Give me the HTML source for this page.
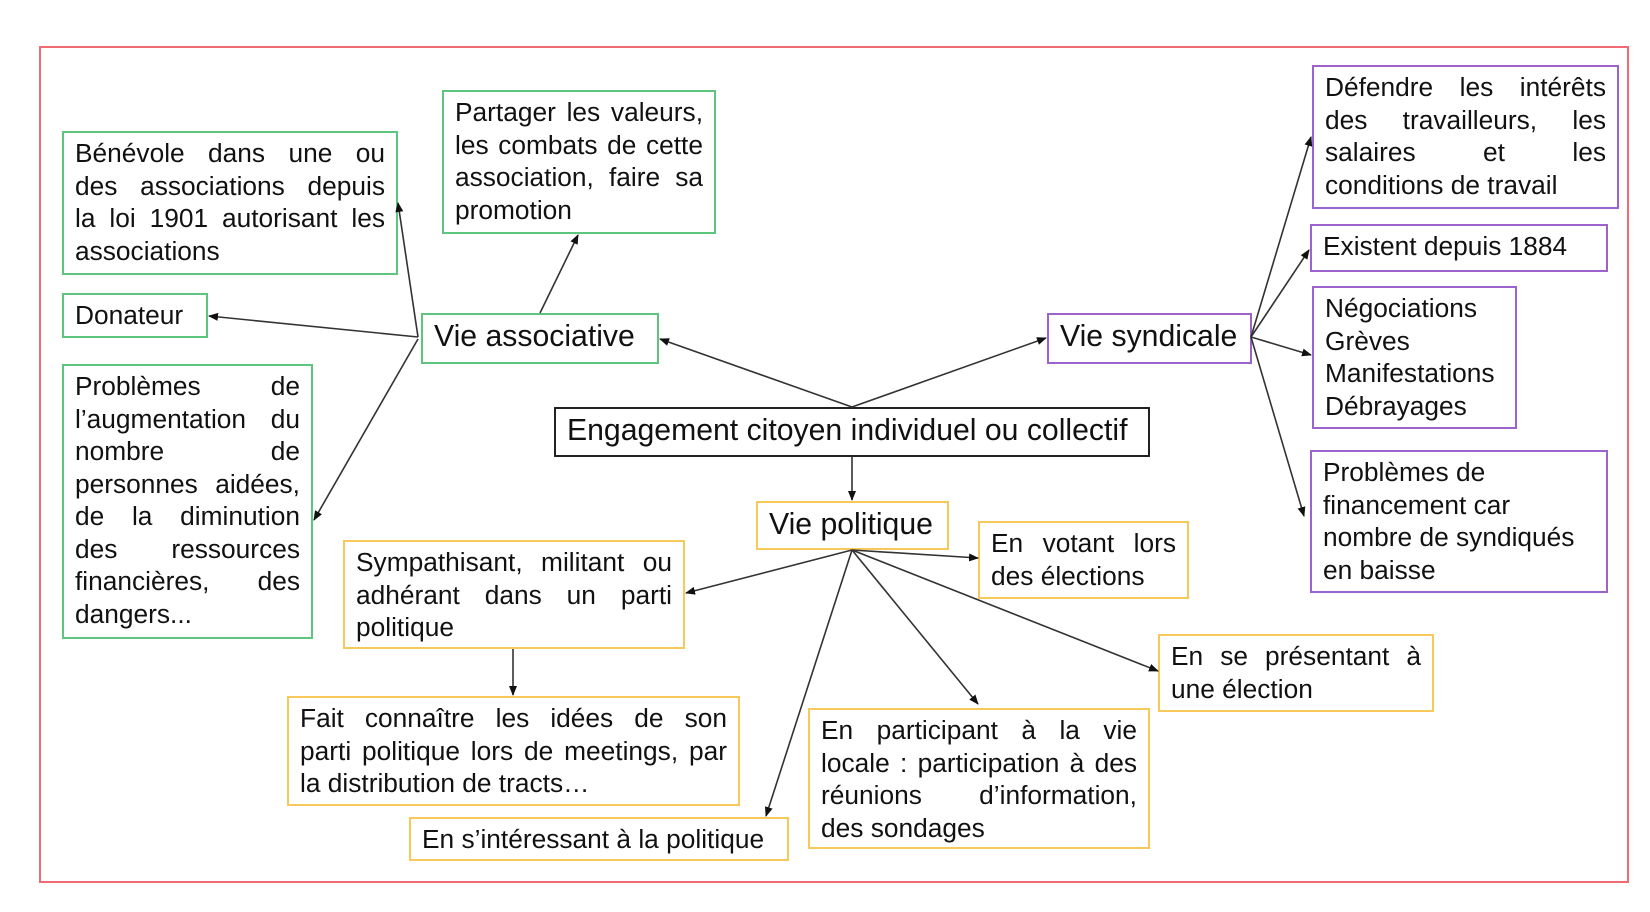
<!DOCTYPE html>
<html><head><meta charset="utf-8"><style>
body{margin:0;width:1650px;height:912px;background:#fff;position:relative;overflow:hidden;font-family:"Liberation Sans",Arial,sans-serif;color:#111}
.b{position:absolute;box-sizing:border-box;border:2px solid;padding:4px 11px 0 11px;font-size:26.3px;line-height:32.5px;white-space:nowrap}
.b .j{text-align:justify;text-align-last:justify;white-space:normal}
.g{border-color:#5ec57e}.p{border-color:#9d63cc}.y{border-color:#f7c95a}.k{border-color:#222}
.big{font-size:30.2px;line-height:40px;padding-top:2px}
svg{position:absolute;left:0;top:0}
</style></head><body>
<div style="position:absolute;left:39px;top:46px;width:1590px;height:837px;box-sizing:border-box;border:2px solid #f06b73"></div>

<div class="b g" style="left:62px;top:131px;width:336px;height:144px"><div class="j">Bénévole dans une ou</div><div class="j">des associations depuis</div><div class="j">la loi 1901 autorisant les</div><div>associations</div></div>
<div class="b g" style="left:62px;top:293px;width:146px;height:45px">Donateur</div>
<div class="b g" style="left:62px;top:364px;width:251px;height:275px"><div class="j">Problèmes de</div><div class="j">l’augmentation du</div><div class="j">nombre de</div><div class="j">personnes aidées,</div><div class="j">de la diminution</div><div class="j">des ressources</div><div class="j">financières, des</div><div>dangers...</div></div>
<div class="b g" style="left:442px;top:90px;width:274px;height:144px"><div class="j">Partager les valeurs,</div><div class="j">les combats de cette</div><div class="j">association, faire sa</div><div>promotion</div></div>
<div class="b g big" style="left:421px;top:313px;width:238px;height:51px">Vie associative</div>
<div class="b k big" style="left:554px;top:407px;width:596px;height:50px">Engagement citoyen individuel ou collectif</div>
<div class="b p big" style="left:1047px;top:313px;width:205px;height:51px">Vie syndicale</div>
<div class="b p" style="left:1312px;top:65px;width:307px;height:144px"><div class="j">Défendre les intérêts</div><div class="j">des travailleurs, les</div><div class="j">salaires et les</div><div>conditions de travail</div></div>
<div class="b p" style="left:1310px;top:224px;width:298px;height:48px">Existent depuis 1884</div>
<div class="b p" style="left:1312px;top:286px;width:205px;height:143px">Négociations<br>Grèves<br>Manifestations<br>Débrayages</div>
<div class="b p" style="left:1310px;top:450px;width:298px;height:143px">Problèmes de<br>financement car<br>nombre de syndiqués<br>en baisse</div>
<div class="b y big" style="left:756px;top:501px;width:193px;height:49px">Vie politique</div>
<div class="b y" style="left:978px;top:521px;width:211px;height:78px"><div class="j">En votant lors</div><div>des élections</div></div>
<div class="b y" style="left:343px;top:540px;width:342px;height:109px"><div class="j">Sympathisant, militant ou</div><div class="j">adhérant dans un parti</div><div>politique</div></div>
<div class="b y" style="left:287px;top:696px;width:453px;height:110px"><div class="j">Fait connaître les idées de son</div><div class="j">parti politique lors de meetings, par</div><div>la distribution de tracts…</div></div>
<div class="b y" style="left:409px;top:817px;width:380px;height:44px">En s’intéressant à la politique</div>
<div class="b y" style="left:808px;top:708px;width:342px;height:141px"><div class="j">En participant à la vie</div><div class="j">locale : participation à des</div><div class="j">réunions d’information,</div><div>des sondages</div></div>
<div class="b y" style="left:1158px;top:634px;width:276px;height:78px"><div class="j">En se présentant à</div><div>une élection</div></div>

<svg width="1650" height="912" viewBox="0 0 1650 912">
<defs><marker id="a" markerWidth="10" markerHeight="8" refX="9" refY="4" orient="auto" markerUnits="userSpaceOnUse"><path d="M0,0L10,4L0,8z" fill="#111"/></marker></defs>
<g stroke="#333" stroke-width="1.6" fill="none" marker-end="url(#a)">
<line x1="418" y1="337" x2="398" y2="203"/>
<line x1="418" y1="337" x2="209" y2="316"/>
<line x1="418" y1="339" x2="314" y2="520"/>
<line x1="540" y1="313" x2="578" y2="235"/>
<line x1="852" y1="407" x2="660" y2="339"/>
<line x1="852" y1="407" x2="1046" y2="338"/>
<line x1="852" y1="457" x2="852" y2="500"/>
<line x1="1251" y1="337" x2="1311" y2="137"/>
<line x1="1251" y1="337" x2="1309" y2="250"/>
<line x1="1251" y1="337" x2="1311" y2="355"/>
<line x1="1251" y1="337" x2="1304" y2="516"/>
<line x1="852" y1="550" x2="686" y2="593"/>
<line x1="852" y1="550" x2="978" y2="558"/>
<line x1="852" y1="550" x2="1158" y2="671"/>
<line x1="852" y1="550" x2="978" y2="704"/>
<line x1="852" y1="550" x2="766" y2="816"/>
<line x1="513" y1="649" x2="513" y2="695"/>
</g></svg>
</body></html>
